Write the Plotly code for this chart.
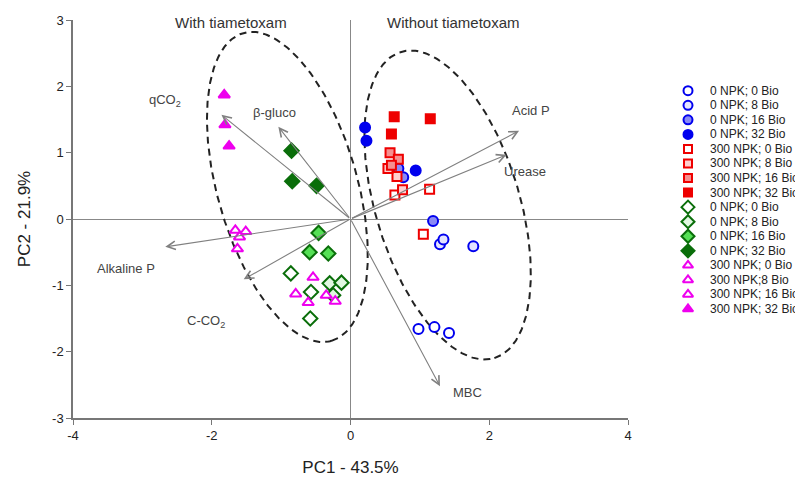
import numpy as np
import plotly.graph_objects as go

# ---------------- data ----------------
series_names = [
    "0 NPK; 0 Bio", "0 NPK; 8 Bio", "0 NPK; 16 Bio", "0 NPK; 32 Bio",
    "300 NPK; 0 Bio", "300 NPK; 8 Bio", "300 NPK; 16 Bio", "300 NPK; 32 Bio",
    "0 NPK; 0 Bio", "0 NPK; 8 Bio", "0 NPK; 16 Bio", "0 NPK; 32 Bio",
    "300 NPK; 0 Bio", "300 NPK;8 Bio", "300 NPK; 16 Bio", "300 NPK; 32 Bio",
]

pc1_values = [
    [0.98, 1.21, 1.42], [1.29, 1.34, 1.77], [1.19, 0.76, 0.69], [0.21, 0.23, 0.94],
    [0.64, 1.14, 1.05], [0.67, 0.54, 0.75], [0.57, 0.69, 0.59], [0.63, 1.15, 0.59],
    [-0.86, -0.57, -0.58], [-0.30, -0.13, -0.25], [-0.46, -0.59, -0.32], [-0.85, -0.84, -0.49],
    [-0.54, -0.79, -0.61], [-0.35, -0.22, -1.63], [-1.66, -1.51, -1.60], [-1.82, -1.81, -1.75],
]
pc2_values = [
    [-1.66, -1.63, -1.72], [-0.38, -0.31, -0.41], [-0.03, 0.63, 0.76], [1.38, 1.18, 0.73],
    [0.36, 0.45, -0.23], [0.64, 0.76, 0.44], [1.00, 0.90, 0.81], [1.54, 1.51, 1.28],
    [-0.82, -1.10, -1.50], [-0.97, -0.96, -1.15], [-0.21, -0.50, -0.52], [1.03, 0.57, 0.50],
    [-0.88, -1.13, -1.26], [-1.15, -1.24, -0.45], [-0.17, -0.19, -0.27], [1.87, 1.42, 1.10],
]

variable_names = ["qCO<sub>2</sub>", "β-gluco", "Alkaline P", "C-CO<sub>2</sub>", "MBC", "Acid P", "Urease"]
loading_pc1 = [-1.86, -1.04, -2.67, -1.54, 1.29, 2.43, 2.25]
loading_pc2 = [1.57, 1.39, -0.42, -0.91, -2.52, 1.33, 0.97]
label_pc1 = [-2.67, -1.09, -3.23, -2.08, 1.68, 2.60, 2.51]
label_pc2 = [1.79, 1.60, -0.74, -1.55, -2.62, 1.64, 0.71]

group_titles = ["With tiametoxam", "Without tiametoxam"]
group_title_x = [-1.72, 1.49]
group_title_y = [2.96, 2.96]

x_ticks = [-4, -2, 0, 2, 4]
y_ticks = [-3, -2, -1, 0, 1, 2, 3]

# ---------------- styles ----------------
BLUE, RED, GREEN, MAG = "#0000ee", "#ee0000", "#0a6e0a", "#ee00ee"
styles = [
    ("circle", BLUE, "#ffffff"), ("circle", BLUE, "#e4e4ff"), ("circle", BLUE, "#8a8af4"), ("circle", BLUE, BLUE),
    ("square", RED, "#ffffff"), ("square", RED, "#ffd0d0"), ("square", RED, "#f59090"), ("square", RED, RED),
    ("diamond", GREEN, "#ffffff"), ("diamond", GREEN, "#e2f8e2"), ("diamond", GREEN, "#55e055"), ("diamond", GREEN, GREEN),
    ("triangle-up", MAG, "#ffffff"), ("triangle-up", MAG, "#ffffff"), ("triangle-up", MAG, "#ffffff"), ("triangle-up", MAG, MAG),
]
sizes = {"circle": 10, "square": 9, "diamond": 11, "triangle-up": 10}

FONT = "Arial, Liberation Sans, sans-serif"
fig = go.Figure()

# ellipses (dashed confidence regions), shape parameters: centre (data), semi-axes (px), tilt
sx, sy = 69.4, 66.3
t = np.linspace(0, 2 * np.pi, 300)
for cx, cy, a, b, phi in [(-0.91, 0.483, 160, 70, 16), (1.40, 0.211, 160, 72, 17)]:
    p = np.radians(phi)
    dx = a * np.cos(t) * np.sin(p) + b * np.sin(t) * np.cos(p)
    dy = a * np.cos(t) * np.cos(p) - b * np.sin(t) * np.sin(p)
    fig.add_trace(go.Scatter(x=cx + dx / sx, y=cy - dy / sy, mode="lines",
                             line=dict(color="#222222", width=2, dash="7px,5px"),
                             showlegend=False, hoverinfo="skip"))

# loading vectors
for vx, vy in zip(loading_pc1, loading_pc2):
    fig.add_annotation(x=vx, y=vy, ax=0, ay=0, xref="x", yref="y", axref="x", ayref="y",
                       showarrow=True, arrowhead=5, arrowsize=1.5, arrowwidth=1.1,
                       arrowcolor="#808080", text="")
for name, lx, ly in zip(variable_names, label_pc1, label_pc2):
    fig.add_annotation(x=lx, y=ly, xref="x", yref="y", text=name, showarrow=False,
                       font=dict(family=FONT, size=13, color="#444444"))

for name, gx, gy in zip(group_titles, group_title_x, group_title_y):
    fig.add_annotation(x=gx, y=gy, xref="x", yref="y", text=name, showarrow=False,
                       font=dict(family=FONT, size=15, color="#333333"))

# scores
for i, name in enumerate(series_names):
    sym, lc, fc = styles[i]
    fig.add_trace(go.Scatter(x=pc1_values[i], y=pc2_values[i], mode="markers", name=name,
                             marker=dict(symbol=sym, size=sizes[sym], color=fc,
                                         line=dict(color=lc, width=2)),
                             showlegend=False))

# custom legend on a hidden axis pair
for i, name in enumerate(series_names):
    sym, lc, fc = styles[i]
    fig.add_trace(go.Scatter(x=[8], y=[i], xaxis="x2", yaxis="y2", mode="markers",
                             marker=dict(symbol=sym, size=sizes[sym] - 1, color=fc,
                                         line=dict(color=lc, width=2)),
                             showlegend=False, hoverinfo="skip"))
    fig.add_annotation(x=28, y=i, xref="x2", yref="y2", text=name, showarrow=False,
                       xanchor="left", font=dict(family=FONT, size=12, color="#222222"))

axis_common = dict(showgrid=False, showline=True, linecolor="#777777", linewidth=1.5,
                   ticks="outside", ticklen=5, tickcolor="#777777", zeroline=True,
                   zerolinecolor="#888888", zerolinewidth=1.3, automargin=False,
                   tickfont=dict(family=FONT, size=13, color="#222222"))

fig.update_layout(
    width=795, height=473,
    margin=dict(l=65, r=3, t=12, b=63),
    plot_bgcolor="white", paper_bgcolor="white",
    showlegend=False,
    xaxis=dict(domain=[0, 555 / 727], range=[-4, 4], tickvals=x_ticks,
               ticktext=[str(v) for v in x_ticks],
               title=dict(text="PC1 - 43.5%", font=dict(family=FONT, size=17, color="#222222"),
                          standoff=19), **axis_common),
    yaxis=dict(range=[-3, 3], tickvals=y_ticks, ticktext=[str(v) for v in y_ticks],
               title=dict(text="PC2 - 21.9%", font=dict(family=FONT, size=17, color="#222222"),
                          standoff=17), **axis_common),
    xaxis2=dict(domain=[607 / 727, 1], range=[0, 120], anchor="y2", visible=False),
    yaxis2=dict(domain=[0, 1], range=[22.49, -4.86], anchor="x2", visible=False),
)

fig.write_html("out.html")
